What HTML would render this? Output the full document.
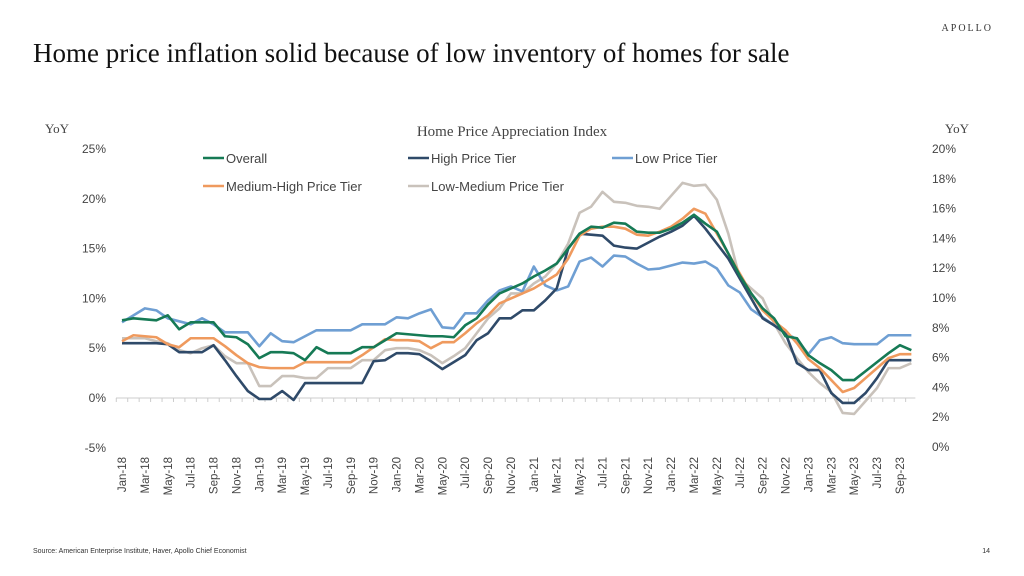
<!DOCTYPE html>
<html><head><meta charset="utf-8"><style>
body{margin:0;background:#fff;}
svg{display:block;font-family:"Liberation Sans",sans-serif;}
.serif{font-family:"Liberation Serif",serif;}
</style></head><body>
<svg id="chart" width="1024" height="576" viewBox="0 0 1024 576">
<text x="993" y="31" text-anchor="end" class="serif" font-size="10" letter-spacing="2" fill="#333">APOLLO</text>
<text x="33" y="62" class="serif" font-size="27" fill="#111">Home price inflation solid because of low inventory of homes for sale</text>
<text x="512" y="136" text-anchor="middle" class="serif" font-size="15" fill="#444">Home Price Appreciation Index</text>
<text x="45" y="133" class="serif" font-size="13" fill="#444">YoY</text>
<text x="945" y="133" class="serif" font-size="13" fill="#444">YoY</text>
<g id="axes"></g>
<g id="series"></g>
<g id="legend"></g>
<text x="33" y="553" font-size="7" fill="#333">Source: American Enterprise Institute, Haver, Apollo Chief Economist</text>
<text x="990" y="553" text-anchor="end" font-size="7" fill="#333">14</text>
</svg>
<script>
const leftTicks = [-5, 0, 5, 10, 15, 20, 25];
const rightTicks = [0, 2, 4, 6, 8, 10, 12, 14, 16, 18, 20];
const months = ["Jan","Feb","Mar","Apr","May","Jun","Jul","Aug","Sep","Oct","Nov","Dec"];
const overall = [7.8,8.0,7.9,7.8,8.3,6.9,7.6,7.6,7.6,6.2,6.1,5.4, 4.0,4.6,4.6,4.5,3.8,5.1,4.5,4.5,4.5,5.1,5.1,5.8, 6.5,6.4,6.3,6.2,6.2,6.1,7.3,8.0,9.4,10.5,11.0,11.5, 12.2,12.8,13.5,15.0,16.5,17.2,17.1,17.6,17.5,16.7,16.6,16.6, 17.0,17.6,18.4,17.5,16.7,14.5,12.3,10.5,9.0,8.0,6.2,6.0, 4.3,3.5,2.8,1.8,1.8,2.7,3.6,4.5,5.3,4.8];
const highTier = [5.5,5.5,5.5,5.5,5.4,4.6,4.6,4.6,5.3,3.8,2.2,0.7, -0.1,-0.1,0.7,-0.2,1.5,1.5,1.5,1.5,1.5,1.5,3.7,3.8, 4.5,4.5,4.4,3.7,2.9,3.6,4.3,5.8,6.5,8.0,8.0,8.8, 8.8,9.8,11.0,15.0,16.5,16.4,16.3,15.3,15.1,15.0,15.6,16.2, 16.7,17.3,18.3,17.0,15.5,14.0,12.0,10.0,8.0,7.3,6.5,3.5, 2.8,2.8,0.5,-0.5,-0.5,0.5,2.0,3.8,3.8,3.8];
const lowTier = [7.6,8.3,9.0,8.8,8.0,7.7,7.4,8.0,7.4,6.6,6.6,6.6, 5.2,6.5,5.7,5.6,6.2,6.8,6.8,6.8,6.8,7.4,7.4,7.4, 8.1,8.0,8.5,8.9,7.1,7.0,8.5,8.5,9.8,10.8,11.2,10.7, 13.2,11.3,10.8,11.2,13.7,14.1,13.2,14.3,14.2,13.5,12.9,13.0, 13.3,13.6,13.5,13.7,13.0,11.3,10.6,8.9,8.1,7.3,6.5,5.9, 4.4,5.8,6.1,5.5,5.4,5.4,5.4,6.3,6.3,6.3];
const medHigh = [5.7,6.3,6.2,6.1,5.4,5.1,6.0,6.0,6.0,5.2,4.3,3.5, 3.1,3.0,3.0,3.0,3.6,3.6,3.6,3.6,3.6,4.3,5.1,5.9, 5.8,5.8,5.7,5.0,5.6,5.6,6.5,7.5,8.3,9.5,10.0,10.5, 11.0,11.7,12.4,14.0,16.3,17.0,17.2,17.2,17.0,16.4,16.3,16.7, 17.2,18.0,19.0,18.5,16.5,14.5,12.5,10.5,8.8,7.7,6.8,5.5, 3.9,3.0,1.8,0.6,1.0,2.0,3.0,4.0,4.4,4.4];
const lowMed = [6.0,6.0,6.0,5.7,5.5,4.8,4.5,5.0,5.3,4.2,3.5,3.5, 1.2,1.2,2.2,2.2,2.0,2.0,3.0,3.0,3.0,3.8,3.8,4.8, 5.0,5.0,4.8,4.3,3.5,4.2,5.0,6.5,8.0,9.0,10.5,10.5, 11.5,12.2,13.5,15.5,18.6,19.2,20.7,19.7,19.6,19.3,19.2,19.0, 20.3,21.6,21.3,21.4,19.9,16.5,12.0,11.0,10.0,7.5,5.5,4.0, 2.6,1.5,0.6,-1.5,-1.6,-0.3,1.0,3.0,3.0,3.5];

const NS="http://www.w3.org/2000/svg";
const x0=122, dx=11.44, yZero=398, pxPerPct=9.96;
const xS=i=>x0+i*dx;
const yL=v=>yZero-v*pxPerPct;
const yR=v=>447-v*14.9;
function mk(tag,attrs,parent){const e=document.createElementNS(NS,tag);for(const k in attrs)e.setAttribute(k,attrs[k]);parent.appendChild(e);return e;}
const axes=document.getElementById('axes');
leftTicks.forEach(t=>{
  const e=mk('text',{x:106,y:yL(t)+4,'text-anchor':'end','font-size':12,fill:'#444'},axes);
  e.textContent=t+'%';
  
  
});
rightTicks.forEach(t=>{
  const e=mk('text',{x:932,y:yR(t)+4,'font-size':12,fill:'#444'},axes);
  e.textContent=t+'%';
  
  
});
const n=overall.length;
const axl=mk('line',{x1:116,x2:xS(n-1)+4,y1:yZero,y2:yZero,stroke:'#ccc','stroke-width':1},axes);


for(let i=0;i<n;i++){
  const tk=mk('line',{x1:xS(i)-dx/2,x2:xS(i)-dx/2,y1:yZero,y2:yZero+4,stroke:'#ccc'},axes);
  
  
  if(i%2===0){
    const lbl=months[i%12]+'-'+(18+Math.floor(i/12));
    const e=mk('text',{x:0,y:0,'text-anchor':'end','font-size':11.5,fill:'#444',transform:`translate(${xS(i)+4},${457}) rotate(-90)`},axes);
    e.textContent=lbl;
    
    
  }
}
const series=[
 ['low-medium-price-tier',lowMed,'#c9c2bb'],
 ['low-price-tier',lowTier,'#6f9fd3'],
 ['high-price-tier',highTier,'#2f4a69'],
 ['medium-high-price-tier',medHigh,'#ef9a5e'],
 ['overall',overall,'#167a55']
];
const sg=document.getElementById('series');
series.forEach(([name,arr,col])=>{
  const p=mk('polyline',{points:arr.map((v,i)=>xS(i)+','+yL(v)).join(' '),fill:'none',stroke:col,'stroke-width':2.6,'stroke-linejoin':'round'},sg);
  
  
});
const legendItems=[['Overall','#167a55',203,158],['High Price Tier','#2f4a69',408,158],['Low Price Tier','#6f9fd3',612,158],['Medium-High Price Tier','#ef9a5e',203,186],['Low-Medium Price Tier','#c9c2bb',408,186]];
const lg=document.getElementById('legend');
legendItems.forEach(([t,c,x,y])=>{
  const g=mk('g',{},lg);
  
  
  mk('line',{x1:x,x2:x+21,y1:y,y2:y,stroke:c,'stroke-width':2.6},g);
  const e=mk('text',{x:x+23,y:y+5,'font-size':13,fill:'#444'},g);
  e.textContent=t;
});
</script>
</body></html>
